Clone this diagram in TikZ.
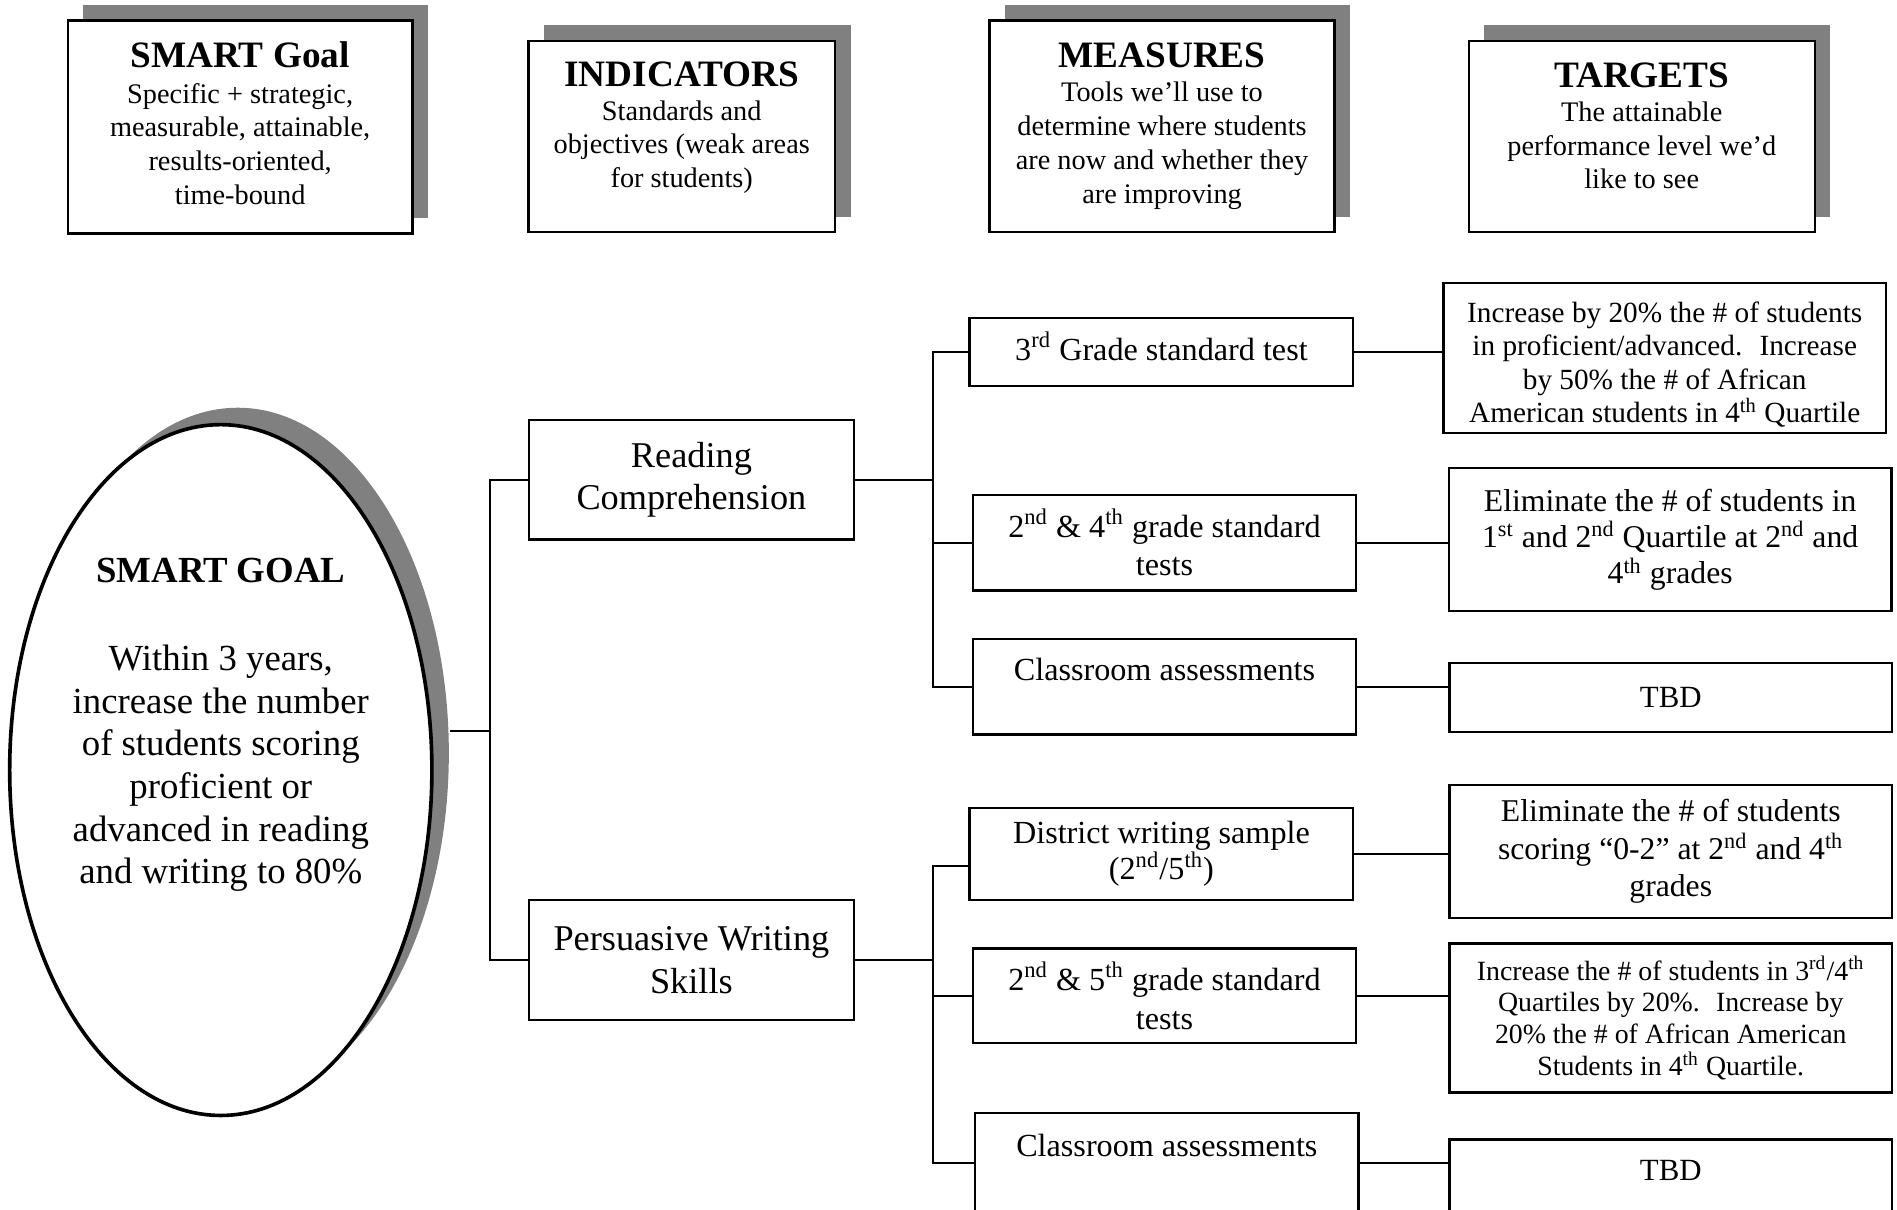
\documentclass[tikz,border=0pt]{standalone}
\usepackage{fontspec}
\setmainfont{Liberation Serif}
\usetikzlibrary{shapes.geometric, shadows, positioning, calc}

\begin{document}
\begin{tikzpicture}[x=0.5pt, y=-0.5pt]
  \tikzstyle{head} = [draw, line width=1pt, fill=white, inner sep=0pt, align=center, font=\fontsize{11.7}{14}\selectfont, drop shadow={shadow xshift=6.5pt, shadow yshift=6.5pt, opacity=1, fill=black!50}]
  \tikzstyle{goal} = [draw, ellipse, line width=1.5pt, fill=white, inner sep=0pt, drop shadow={shadow xshift=7pt, shadow yshift=7pt, opacity=1, fill=black!50}]
  \tikzstyle{ind} = [draw, line width=0.9pt, fill=white, inner sep=0pt, align=center, minimum width=134.5pt, minimum height=49.5pt, font=\fontsize{15}{17.5}\selectfont]
  \tikzstyle{meas} = [draw, line width=1pt, fill=white, inner sep=0pt, align=center, minimum width=158.5pt, font=\fontsize{13.3}{16}\selectfont]
  \tikzstyle{targ} = [draw, line width=1pt, fill=white, inner sep=0pt, align=center, minimum width=183pt]
  \tikzstyle{link} = [line width=0.8pt]
  \newcommand{\headtitle}[1]{{\fontsize{15.4}{18}\selectfont\bfseries #1}}
  \newcommand{\sups}[1]{\textsuperscript{#1}}
  \newcommand{\lift}[1]{\\[#1]\mbox{}}

  \useasboundingbox (0,0) rectangle (1568,1000);

  % column headings
  \node[head, minimum width=142.5pt, minimum height=88pt] (goalhead) at (198.5,105) {\headtitle{SMART Goal}\\[0.5pt] Specific + strategic,\\ measurable, attainable,\\ results-oriented,\\ time-bound\lift{-11pt}};
  \node[head, minimum width=126.5pt, minimum height=79pt] (indhead) at (563.5,113) {\headtitle{INDICATORS}\\ Standards and\\ objectives (weak areas\\ for students)\lift{-4pt}};
  \node[head, minimum width=142.5pt, minimum height=87.5pt] (meashead) at (960.5,104.5) {\headtitle{MEASURES}\\ Tools we’ll use to\\ determine where students\\ are now and whether they\\ are improving};
  \node[head, minimum width=143pt, minimum height=79pt] (targhead) at (1357,113) {\headtitle{TARGETS}\\ The attainable\\ performance level we’d\\ like to see\lift{-5pt}};

  % the goal
  \node[goal, minimum width=174.5pt, minimum height=285.5pt] (goal) at (182.5,636.5) {};
  \node[align=center, font=\fontsize{15.2}{17.6}\selectfont] (goaltext) at (182.5,599) {\textbf{SMART GOAL}\\[19pt] Within 3 years,\\ increase the number\\ of students scoring\\ proficient or\\ advanced in reading\\ and writing to 80\%};

  % indicators
  \node[ind] (read) at (571.5,396.5) {Reading\\ Comprehension};
  \node[ind] (pers) at (571.5,793.5) {Persuasive Writing\\ Skills};

  % measures
  \node[meas, minimum height=28pt, text depth=5pt] (m1) at (960,291) {3\sups{rd} Grade standard test};
  \node[meas, minimum height=39.5pt] (m2) at (962.5,448.5) {2\sups{nd} \& 4\sups{th} grade standard\\ tests};
  \node[meas, minimum height=39.5pt, text depth=14.5pt] (m3) at (962.5,567.5) {Classroom assessments};
  \node[meas, minimum height=38pt] (m4) at (960,706) {District writing sample\\[-1.2pt] (2\sups{nd}/5\sups{th})};
  \node[meas, minimum height=39pt] (m5) at (962.5,823) {2\sups{nd} \& 5\sups{th} grade standard\\ tests};
  \node[meas, minimum height=41pt, text depth=14.5pt] (m6) at (964.5,961) {Classroom assessments};

  % targets
  \node[targ, minimum height=62pt, font=\fontsize{12.1}{13.85}\selectfont] (t1) at (1376,296) {\mbox{}\\ Increase by 20\% the \# of students\\ in proficient/advanced.~ Increase\\ by 50\% the \# of African\\ American students in 4\sups{th} Quartile};
  \node[targ, minimum height=59pt, font=\fontsize{13.1}{15}\selectfont] (t2) at (1380.5,446) {Eliminate the \# of students in\\ 1\sups{st} and 2\sups{nd} Quartile at 2\sups{nd} and\\ 4\sups{th} grades};
  \node[targ, minimum height=28.5pt, font=\fontsize{12.75}{15}\selectfont] (t3) at (1381,576.5) {TBD};
  \node[targ, minimum height=55pt, font=\fontsize{13.1}{15.5}\selectfont] (t4) at (1381,704) {Eliminate the \# of students\\ scoring “0-2” at 2\sups{nd} and 4\sups{th}\\ grades};
  \node[targ, minimum height=61.5pt, font=\fontsize{11.5}{13.15}\selectfont] (t5) at (1381,841.5) {Increase the \# of students in 3\sups{rd}/4\sups{th}\\ Quartiles by 20\%.~ Increase by\\ 20\% the \# of African American\\ Students in 4\sups{th} Quartile.};
  \node[targ, minimum height=33pt, text depth=8pt, font=\fontsize{12.75}{15}\selectfont] (t6) at (1381,975) {TBD};

  % connectors
  \coordinate (goalout) at (372,604);
  \coordinate (trunk) at (405,604);
  \coordinate (rbar) at (771,0);
  \coordinate (pbar) at (771,0);
  \draw[link] (goalout) -- (trunk);
  \draw[link] (read.west) -| (trunk);
  \draw[link] (pers.west) -| (trunk);

  \draw[link] (read.east) -- (read.east -| rbar);
  \draw[link] (m1.west) -| (read.east -| rbar);
  \draw[link] (m2.west) -| (read.east -| rbar);
  \draw[link] (m3.west) -| (read.east -| rbar);

  \draw[link] (pers.east) -- (pers.east -| pbar);
  \draw[link] ([yshift=-5pt]m4.west) -| (pers.east -| pbar);
  \draw[link] (m5.west) -| (pers.east -| pbar);
  \draw[link] (m6.west) -| (pers.east -| pbar);

  \draw[link] (m1.east) -- (m1.east -| t1.west);
  \draw[link] (m2.east) -- (m2.east -| t2.west);
  \draw[link] (m3.east) -- (m3.east -| t3.west);
  \draw[link] (m4.east) -- (m4.east -| t4.west);
  \draw[link] (m5.east) -- (m5.east -| t5.west);
  \draw[link] (m6.east) -- (m6.east -| t6.west);
\end{tikzpicture}
\end{document}
